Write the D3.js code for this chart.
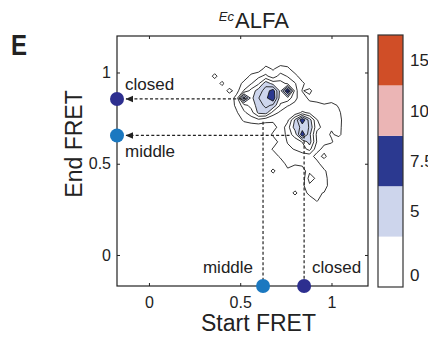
<!DOCTYPE html>
<html><head><meta charset="utf-8">
<script src="https://cdn.jsdelivr.net/npm/d3@7"></script>
<style>body{margin:0;background:#fff;} svg{display:block;font-family:"Liberation Sans",Arial,sans-serif;}</style>
</head><body><svg id="c" width="428" height="337"></svg>
<script>
// ---- data ----
const xTicks = [0, 0.5, 1];
const yTicks = [0, 0.5, 1];
const xDomain = [-0.175, 1.2];
const yDomain = [-0.17, 1.2];
// density grid: column c -> Start FRET = gridX0 + c*gridStep ; row r -> End FRET = gridY0 - r*gridStep
const gridX0 = 0.32, gridY0 = 1.06, gridStep = 0.04;
const density = [
 [0,0,0,0,0,0,0,0,0,0,0,0,0,0,0,0,0,0,0,0,0],
 [0,0,0,0,0,0,0,0,1.6,0.8,1.8,1.4,0,0,0,0,0,0,0,0,0],
 [0,1.5,0,0,0,0,1.4,2.2,2.8,1.8,3,2.4,1.6,0,0,0,0,0,0,0,0],
 [0,0,1.4,0,0,1.5,2.4,3.5,5.8,4.5,4.2,3.5,2.6,1.4,0,0,0,0,0,0,0],
 [0,0,0,1.5,0.4,2.6,4.2,5.6,6.8,8.2,4.5,9.6,3.2,0.9,1.4,0,0,0,0,0,0],
 [0,0,0,0,1.6,8.2,4.6,6.2,7.2,8.6,4.2,4.6,2.8,1.8,0.6,0,0,0,0,0,0],
 [0,0,0,0,1.4,3.2,4.2,5.6,6.6,6,3.6,2.6,2.2,1.0,1.6,1.8,1.2,1.6,0.8,0,0],
 [0,0,0,0,0.8,2.2,3.2,5.3,5.6,3.2,2.2,1.6,1.6,2.8,2.2,1.4,2.0,1.8,1.3,0,0],
 [0,0,0,0,0,1.3,1.8,2.2,1.6,1.3,1.2,2.2,5.2,8.6,5.6,2.6,1.4,2.2,1.6,0,0],
 [0,0,0,0,0,0,0,0,0,0.4,1.6,3.2,5.6,6.6,6.2,2.8,2.2,1.2,1.5,0,0],
 [0,0,0,0,0,0,0,0,0,1.3,1.0,3.2,4.2,8.6,5.3,2.2,1.6,0.8,1.4,0,0],
 [0,0,0,0,0,0,0,0,0,0,1.6,2.6,3.2,3.8,5.6,2.4,1.4,1.2,0,0,0],
 [0,0,0,0,0,0,0,0,0,1.2,1.0,2.2,2.6,3.2,4.2,1.6,0.5,0,0,0,0],
 [0,0,0,0,0,0,0,0,0,0,1.3,2.2,1.6,1.8,1.7,0.4,1.4,0,0,0,0],
 [0,0,0,0,0,0,0,0,0,0,0,1.6,1.2,1.5,1.8,1.6,0,0,0,0,0],
 [0,0,0,0,0,0,0,0,0,1.4,0,0.6,0,0,2.2,2.3,1.3,0,0,0,0],
 [0,0,0,0,0,0,0,0,0,0,0,0,0,0,3.2,2.2,1.7,0,0,0,0],
 [0,0,0,0,0,0,0,0,0,0,0,0,0,0.6,2.2,1.6,1.8,0,0,0,0],
 [0,0,0,0,0,0,0,0,0,0,0,0,1.4,0,1.6,1.3,0.9,0,0,0,0],
 [0,0,0,0,0,0,0,0,0,0,0,0,0,0,0,1.2,0,0,0,0,0],
 [0,0,0,0,0,0,0,0,0,0,0,0,0,0,0,0,0,0,0,0,0],
 [0,0,0,0,0,0,0,0,0,0,0,0,0,0,0,0,0,0,0,0,0]
];
const contourLevels = [1, 2.5, 3.75, 5, 6.25, 7.5, 8.75];
const colorBreaks = [5, 7.5, 10, 15];
const colorFills = ["#ffffff", "#cdd5ec", "#2b3990", "#ebb5b5", "#d04e27"];
const colorLabels = ["0", "5", "7.5", "10", "15"];
const colorLabelPos = [0.24, 1.5, 2.5, 3.5, 4.5];
const startStates = [
  {name: "middle", fret: 0.625, color: "#1b78c0", top: 0.73},
  {name: "closed", fret: 0.85, color: "#2d2f8f", top: 0.655}
];
const endStates = [
  {name: "closed", fret: 0.855, color: "#2d2f8f", from: 0.535},
  {name: "middle", fret: 0.655, color: "#1b78c0", from: 0.77}
];

// ---- layout ----
const svg = d3.select("#c");
const L = 117, R = 368, T = 36, B = 286;
const x = d3.scaleLinear().domain(xDomain).range([L, R]);
const y = d3.scaleLinear().domain(yDomain).range([B, T]);
const ink = "#222";

svg.append("defs").append("clipPath").attr("id", "plotclip")
  .append("rect").attr("x", L).attr("y", T).attr("width", R - L).attr("height", B - T);
const marker = svg.select("defs").append("marker").attr("id", "arr")
  .attr("markerUnits", "userSpaceOnUse").attr("markerWidth", 8).attr("markerHeight", 8)
  .attr("viewBox", "0 0 8 8").attr("refX", 7).attr("refY", 4).attr("orient", "auto");
marker.append("path").attr("d", "M0,0.8 L7.5,4 L0,7.2 Z").attr("fill", ink);

// contours
const nx = density[0].length, ny = density.length;
const cs = d3.contours().size([nx, ny]).thresholds(contourLevels)(density.flat());
const proj = d3.geoTransform({point: function(gx, gy) {
  this.stream.point(x(gridX0 + (gx - 0.5) * gridStep), y(gridY0 - (gy - 0.5) * gridStep));
}});
const path = d3.geoPath(proj);
const fillScale = d3.scaleThreshold().domain(colorBreaks).range(colorFills);
svg.append("g").attr("clip-path", "url(#plotclip)")
  .selectAll("path").data(cs).join("path")
  .attr("d", path)
  .attr("fill", d => fillScale(d.value))
  .attr("stroke", "#111").attr("stroke-width", 0.85).attr("stroke-linejoin", "miter");

// dashed guide lines
const guides = svg.append("g").attr("fill", "none").attr("stroke", ink)
  .attr("stroke-width", 1.2).attr("stroke-dasharray", "3,2.2");
guides.selectAll("line.h").data(endStates).join("line").attr("class", "h")
  .attr("x1", d => x(d.from)).attr("x2", x(xDomain[0]) + 9)
  .attr("y1", d => y(d.fret)).attr("y2", d => y(d.fret))
  .attr("marker-end", "url(#arr)");
guides.selectAll("line.v").data(startStates).join("line").attr("class", "v")
  .attr("x1", d => x(d.fret)).attr("x2", d => x(d.fret))
  .attr("y1", d => y(d.top)).attr("y2", y(yDomain[0]) - 6);

// axes
function styleAxis(g) {
  g.select(".domain").remove();
  g.selectAll(".tick line").attr("stroke", ink).attr("stroke-width", 1);
  g.selectAll(".tick text").attr("fill", "#222").style("font-size", "16px").style("font-family", "Liberation Sans, Arial, sans-serif");
}
svg.append("g").attr("transform", `translate(0,${B})`)
  .call(d3.axisBottom(x).tickValues(xTicks).tickSize(-3).tickSizeOuter(0).tickPadding(10.5).tickFormat(d3.format("~g")))
  .call(styleAxis);
svg.append("g").attr("transform", `translate(0,${T})`)
  .call(d3.axisTop(x).tickValues(xTicks).tickSize(-3).tickSizeOuter(0).tickFormat(""))
  .call(styleAxis);
svg.append("g").attr("transform", `translate(${L},0)`)
  .call(d3.axisLeft(y).tickValues(yTicks).tickSize(-3).tickSizeOuter(0).tickPadding(6).tickFormat(d3.format("~g")))
  .call(styleAxis);
svg.append("g").attr("transform", `translate(${R},0)`)
  .call(d3.axisRight(y).tickValues(yTicks).tickSize(-3).tickSizeOuter(0).tickFormat(""))
  .call(styleAxis);
svg.append("rect").attr("x", L).attr("y", T).attr("width", R - L).attr("height", B - T)
  .attr("fill", "none").attr("stroke", ink).attr("stroke-width", 1.2);

// state dots and labels
svg.selectAll("circle.s").data(startStates).join("circle").attr("class", "s")
  .attr("cx", d => x(d.fret)).attr("cy", B).attr("r", 7).attr("fill", d => d.color);
svg.selectAll("circle.e").data(endStates).join("circle").attr("class", "e")
  .attr("cx", L).attr("cy", d => y(d.fret)).attr("r", 7).attr("fill", d => d.color);
svg.selectAll("text.s").data(startStates).join("text").attr("class", "s")
  .attr("x", d => d.name === "middle" ? x(d.fret) - 10 : x(d.fret) + 8)
  .attr("y", B - 13).attr("text-anchor", d => d.name === "middle" ? "end" : "start")
  .attr("font-size", 17).attr("fill", "#222").text(d => d.name);
svg.selectAll("text.e").data(endStates).join("text").attr("class", "e")
  .attr("x", L + 8)
  .attr("y", d => d.name === "closed" ? y(d.fret) - 9 : y(d.fret) + 22)
  .attr("font-size", 17).attr("fill", "#222").text(d => d.name);

// axis titles
svg.append("text").attr("x", (L + R) / 2 + 16).attr("y", 331).attr("text-anchor", "middle")
  .attr("font-size", 23).attr("fill", "#222").text("Start FRET");
svg.append("text").attr("transform", `translate(82,144) rotate(-90)`).attr("text-anchor", "middle")
  .attr("font-size", 23).attr("fill", "#222").text("End FRET");

// title
svg.append("text").attr("x", 234).attr("y", 21).attr("text-anchor", "end")
  .attr("font-size", 13).attr("font-style", "italic").attr("fill", "#222").text("Ec");
svg.append("text").attr("x", 235).attr("y", 28)
  .attr("font-size", 22).attr("fill", "#222").text("ALFA");
svg.append("text").attr("transform", "translate(11,55) scale(0.8,1)")
  .attr("font-size", 30).attr("font-weight", "bold").attr("fill", "#222").text("E");

// colorbar
const cbX = 378, cbW = 25, cbT = 35, cbB = 287;
const cb = d3.scaleLinear().domain([0, colorFills.length]).range([cbB, cbT]);
svg.selectAll("rect.cb").data(colorFills).join("rect").attr("class", "cb")
  .attr("x", cbX).attr("width", cbW)
  .attr("y", (d, i) => cb(i + 1)).attr("height", (d, i) => cb(i) - cb(i + 1))
  .attr("fill", d => d);
svg.append("rect").attr("x", cbX).attr("y", cbT).attr("width", cbW).attr("height", cbB - cbT)
  .attr("fill", "none").attr("stroke", "#333").attr("stroke-width", 1.2);
svg.selectAll("text.cb").data(colorLabels).join("text").attr("class", "cb")
  .attr("x", 410).attr("y", (d, i) => cb(colorLabelPos[i])).attr("dy", "0.35em")
  .attr("font-size", 17).attr("fill", "#222").text(d => d);
</script></body></html>
